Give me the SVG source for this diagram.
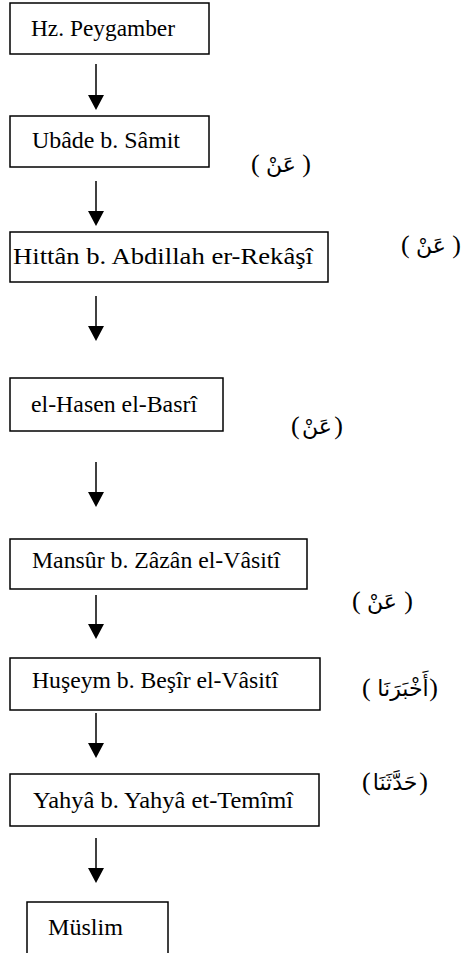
<svg xmlns="http://www.w3.org/2000/svg" width="464" height="953" viewBox="0 0 464 953">
<style>
.box rect{fill:#fff;stroke:#000;stroke-width:1.5}
.box text{font-family:"Liberation Serif","Times New Roman",serif;font-size:24px;fill:#000}
.ar{font-family:"DejaVu Sans","Noto Sans",sans-serif;font-size:22px;fill:#000;text-anchor:middle}
.p{font-family:"Liberation Serif","Times New Roman",serif;font-size:26px;fill:#000}
.l{text-anchor:start}
.r{text-anchor:end}
.conn line{stroke:#000;stroke-width:1.5}
</style>
<defs>
<marker id="ah" markerUnits="userSpaceOnUse" markerWidth="16" markerHeight="16" refX="0" refY="8" orient="auto" viewBox="0 0 16 16">
<path d="M0,0 L15,8 L0,16 z" fill="#000"/>
</marker>
</defs>
<rect width="464" height="953" fill="#fff"/>
<g id="n1" class="box"><rect x="10" y="3" width="199" height="51"/><text x="31" y="36" textLength="144" lengthAdjust="spacingAndGlyphs">Hz. Peygamber</text></g>
<g id="n2" class="box"><rect x="10" y="116" width="199" height="51"/><text x="32" y="148" textLength="148" lengthAdjust="spacingAndGlyphs">Ubâde b. Sâmit</text></g>
<g id="n3" class="box"><rect x="10" y="232" width="318" height="50"/><text x="13" y="264" textLength="300" lengthAdjust="spacingAndGlyphs">Hittân b. Abdillah er-Rekâşî</text></g>
<g id="n4" class="box"><rect x="10" y="378" width="213" height="53"/><text x="31" y="412" textLength="166" lengthAdjust="spacingAndGlyphs">el-Hasen el-Basrî</text></g>
<g id="n5" class="box"><rect x="10" y="539" width="297" height="50"/><text x="32" y="568" textLength="248" lengthAdjust="spacingAndGlyphs">Mansûr b. Zâzân el-Vâsitî</text></g>
<g id="n6" class="box"><rect x="10" y="658" width="310" height="52"/><text x="32" y="688" textLength="246" lengthAdjust="spacingAndGlyphs">Huşeym b. Beşîr el-Vâsitî</text></g>
<g id="n7" class="box"><rect x="10" y="774" width="309" height="52"/><text x="33" y="808" textLength="260" lengthAdjust="spacingAndGlyphs">Yahyâ b. Yahyâ et-Temîmî</text></g>
<g id="n8" class="box"><rect x="27" y="902" width="141" height="60"/><text x="48" y="935" textLength="75" lengthAdjust="spacingAndGlyphs">Müslim</text></g>
<g id="connectors" class="conn">
<line x1="96" y1="64" x2="96" y2="95" marker-end="url(#ah)"/>
<line x1="96" y1="181" x2="96" y2="211" marker-end="url(#ah)"/>
<line x1="96" y1="296" x2="96" y2="326" marker-end="url(#ah)"/>
<line x1="96" y1="462" x2="96" y2="492" marker-end="url(#ah)"/>
<line x1="96" y1="595" x2="96" y2="624" marker-end="url(#ah)"/>
<line x1="96" y1="713" x2="96" y2="743" marker-end="url(#ah)"/>
<line x1="96" y1="838" x2="96" y2="868" marker-end="url(#ah)"/>
</g>
<g id="labels">
<g id="lab1"><text class="p l" x="251" y="172">(</text><text class="ar" x="281" y="172">عَنْ</text><text class="p r" x="311" y="172">)</text></g>
<g id="lab2"><text class="p l" x="401" y="253">(</text><text class="ar" x="431" y="253">عَنْ</text><text class="p r" x="461" y="253">)</text></g>
<g id="lab3"><text class="p l" x="291" y="434">(</text><text class="ar" x="317" y="434">عَنْ</text><text class="p r" x="343" y="434">)</text></g>
<g id="lab4"><text class="p l" x="352" y="609">(</text><text class="ar" x="382" y="609">عَنْ</text><text class="p r" x="413" y="609">)</text></g>
<g id="lab5"><text class="p l" x="362" y="696">(</text><text class="ar" x="403" y="696">أَخْبَرَنَا</text><text class="p r" x="438" y="696">)</text></g>
<g id="lab6"><text class="p l" x="362" y="790">(</text><text class="ar" x="395" y="790">حَدَّثَنَا</text><text class="p r" x="428" y="790">)</text></g>
</g>
</svg>
